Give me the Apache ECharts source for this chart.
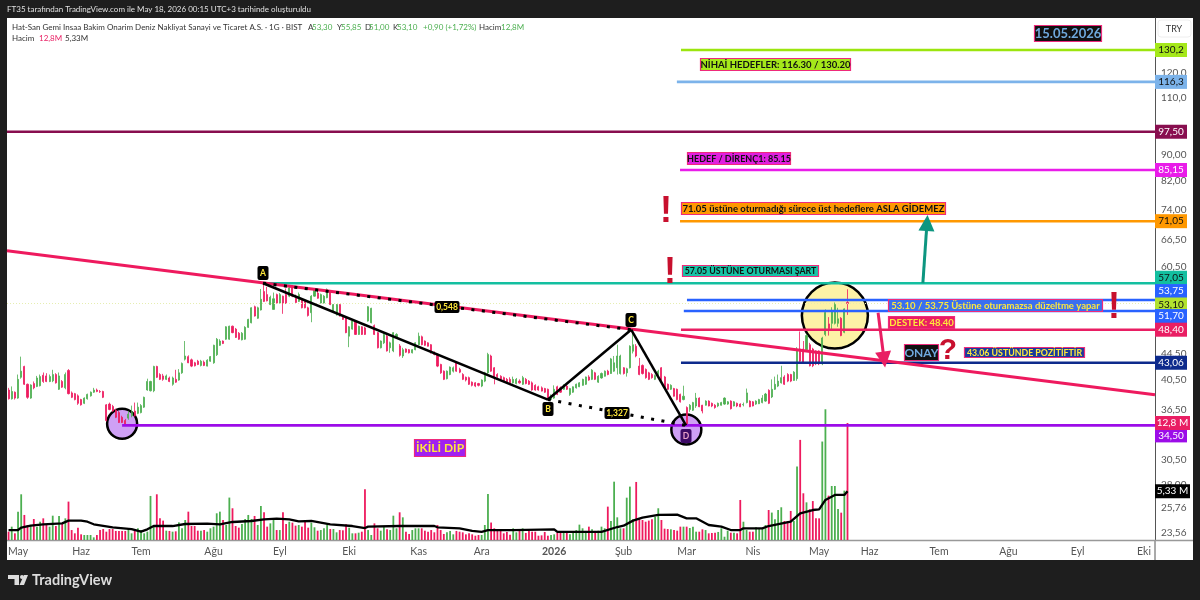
<!DOCTYPE html>
<html><head><meta charset="utf-8">
<script src="https://cdn.jsdelivr.net/npm/echarts@6/dist/echarts.min.js"></script>
<style>html,body{margin:0;padding:0;background:#1e1e1e}#c{width:1200px;height:600px}</style>
</head><body><div id="c"></div>
<script>
// ---------- data ----------
const monthLabels=['May','Haz','Tem','Ağu','Eyl','Eki','Kas','Ara','2026','Şub','Mar','Nis','May','Haz','Tem','Ağu','Eyl','Eki'];
const monthSlots=[3,23,42,65,86,108,130,150,173,195,215,236,257,273,295,317,339,360];
const priceTicks=[120,110,90,82,74,66.5,60.5,44.5,40.5,36.5,30.5,28,25.76,23.56];
const priceTickLabels=['120,0','110,0','90,00','82,00','74,00','66,50','60,50','44,50','40,50','36,50','30,50','28,00','25,76','23,56'];
// open, close, low, high per session
const candles=[
[39.1,37.9,37.8,39.4],[37.9,38.9,37.8,39.6],[38.8,38.0,37.8,38.9],[38.0,40.6,37.9,41.3],[40.9,41.8,40.7,44.0],[42.5,39.9,39.8,42.6],[39.9,38.1,37.9,40.0],[38.0,39.8,37.9,39.9],[40.0,39.4,39.2,40.3],[39.6,40.8,39.5,41.1],
[39.7,41.0,39.6,41.3],[41.2,40.3,40.1,41.6],[41.1,40.3,40.2,41.5],[40.3,41.0,40.2,41.3],[40.4,41.3,40.2,42.0],[41.3,40.1,40.0,41.5],[39.2,41.1,39.1,41.6],[40.3,39.5,39.4,40.5],[39.4,41.3,39.2,41.6],[41.9,38.6,38.5,42.1],
[38.7,38.1,38.0,38.9],[38.6,37.8,37.7,38.7],[38.3,37.3,37.1,38.5],[37.8,37.1,37.0,37.9],[37.3,38.0,37.2,38.1],[37.9,38.5,37.8,38.6],[38.3,38.8,38.2,38.9],[38.8,39.1,38.7,39.4],[39.1,38.9,38.8,39.3],[38.9,38.85,38.7,39.1],
[38.9,38.1,38.0,39.0],[37.1,35.1,35.0,37.2],[37.2,36.5,36.4,37.4],[36.9,36.3,36.2,37.1],[36.4,35.5,35.4,36.6],[36.1,34.85,34.8,36.3],[35.5,34.85,34.8,35.7],[35.1,34.5,34.5,35.3],[35.4,35.9,35.2,36.3],[35.7,36.1,35.5,37.0],
[36.3,35.7,35.6,37.4],[36.0,36.8,35.9,37.4],[36.1,37.0,36.0,37.2],[36.8,38.1,36.7,38.2],[39.1,40.3,39.0,40.7],[39.0,40.3,38.9,40.4],[39.0,42.5,38.8,42.6],[42.5,40.9,40.8,42.6],[41.3,40.6,40.5,41.5],[41.1,40.6,40.4,41.4],
[40.6,41.1,40.5,41.3],[40.8,40.3,40.2,41.0],[39.9,40.8,39.7,41.0],[40.6,40.2,40.1,42.0],[40.5,41.55,40.4,42.1],[41.55,42.95,41.4,43.1],[43.6,44.1,43.4,46.5],[44.0,43.05,43.0,44.2],[43.5,42.55,42.4,43.7],[43.05,42.6,42.5,43.2],
[43.3,42.8,42.7,43.5],[42.65,43.3,42.5,43.5],[43.15,42.65,42.55,43.4],[42.55,43.45,42.5,43.6],[43.3,44.0,43.2,44.1],[43.05,45.8,42.9,45.9],[44.3,46.8,44.1,47.0],[45.8,46.5,45.7,46.8],[46.5,46.1,46.0,46.6],[46.8,48.9,46.7,49.0],
[46.8,49.0,46.7,49.1],[49.0,47.9,47.8,49.1],[48.5,47.1,47.0,48.7],[47.8,46.8,46.7,48.0],[46.7,47.8,46.6,48.0],[46.8,48.8,46.7,49.0],[48.8,50.2,48.7,50.3],[49.6,52.3,49.5,52.4],[52.5,50.8,50.7,52.7],[50.4,52.3,50.3,52.5],
[51.9,53.9,51.8,55.9],[55.4,53.5,53.4,57.05],[54.8,53.6,53.5,56.3],[52.9,54.3,52.8,54.6],[52.0,54.0,52.0,55.2],[54.8,53.2,53.1,55.0],[53.2,54.8,53.1,55.1],[54.5,53.2,51.2,54.6],[54.8,53.1,53.0,56.0],[54.5,56.1,54.3,56.3],
[56.4,54.5,54.3,56.7],[54.5,53.3,53.2,54.8],[53.5,54.8,53.4,55.2],[53.9,52.3,52.2,54.1],[53.5,52.3,52.2,53.7],[52.3,50.9,50.7,52.5],[51.4,54.5,49.7,54.7],[54.5,55.8,54.4,56.0],[55.1,54.1,54.0,55.5],[53.2,54.8,53.1,55.0],
[53.2,54.5,53.1,54.7],[54.2,55.8,54.1,56.0],[55.5,52.9,52.8,55.6],[51.7,52.9,51.6,53.0],[51.0,52.9,50.9,53.0],[52.9,50.8,50.7,53.0],[50.8,50.2,50.1,51.0],[50.5,47.9,47.8,50.6],[47.3,48.9,45.5,49.0],[48.5,49.9,48.4,50.1],
[49.9,47.6,47.5,50.0],[47.6,49.0,47.5,49.1],[48.9,47.6,47.5,49.0],[48.7,47.6,47.5,48.9],[49.9,52.5,49.8,52.6],[49.6,52.2,49.5,52.3],[49.1,47.6,47.5,49.3],[47.9,45.4,45.3,48.0],[45.4,46.5,45.3,46.6],[46.2,47.6,46.0,47.8],
[47.3,44.9,44.8,47.5],[45.4,46.2,44.6,46.4],[44.9,47.9,44.7,48.0],[47.1,47.6,46.9,47.8],[45.7,44.2,44.0,46.0],
[44.1,45.1,43.8,45.4],[45.2,44.7,44.6,45.3],[45.1,44.6,44.5,45.2],[44.6,45.1,44.5,45.2],[45.1,46.2,45.0,46.3],
[45.9,47.3,45.8,47.9],[47.2,45.9,45.8,47.4],[46.5,45.8,45.7,46.6],[46.2,45.65,45.6,46.3],[45.9,44.6,44.5,46.0],[44.7,44.35,44.2,44.8],[44.35,42.55,42.4,44.5],[42.8,41.55,41.4,42.9],[41.8,40.6,40.5,41.9],[40.7,41.8,40.6,41.9],
[41.3,42.4,41.2,42.5],[41.8,42.3,41.6,42.5],[43.05,41.8,41.7,43.2],[42.05,41.65,41.5,42.3],[41.3,40.6,40.5,41.5],[40.9,40.5,40.3,41.0],[40.85,39.9,39.8,41.0],[40.2,39.75,39.6,40.3],[40.1,39.65,39.5,40.2],[40.0,39.75,39.6,40.1],
[39.65,40.5,39.5,40.6],[40.35,41.55,40.2,41.7],[41.55,44.35,41.4,44.6],[44.1,41.8,41.7,44.3],[42.3,40.8,39.9,42.4],[41.3,41.0,40.8,41.5],[41.05,40.6,40.5,41.2],[40.85,40.35,40.2,41.0],[40.6,40.2,40.1,40.8],[40.6,40.1,40.0,40.9],
[40.1,40.6,40.0,41.0],[40.0,40.6,39.9,40.8],[40.35,40.1,40.0,40.6],[39.9,40.85,39.8,41.1],[40.6,40.0,39.9,40.8],[40.35,39.9,39.8,40.5],[40.1,39.1,39.0,40.3],[39.75,39.1,39.0,39.9],[39.55,39.1,39.0,39.7],[39.4,38.95,38.9,39.6],
[39.3,38.8,38.7,39.4],[39.2,37.8,37.75,39.3],[37.8,38.35,37.75,38.5],[38.0,39.2,37.9,39.75],[39.55,38.5,38.4,39.7],[39.4,38.8,38.7,39.6],[39.2,39.75,39.1,39.9],[39.65,39.2,39.1,39.8],[38.5,39.3,38.3,39.4],[38.8,39.55,38.7,39.6],
[39.4,39.9,39.3,40.0],[39.55,40.1,39.5,40.2],[39.75,40.6,39.7,40.7],[39.9,40.95,39.8,41.0],[40.95,40.5,40.4,41.2],[40.6,41.95,40.5,42.1],[41.55,40.6,40.5,41.7],[40.2,41.05,40.1,41.2],[40.8,41.45,40.7,41.6],[41.05,41.8,41.0,41.9],
[41.8,41.3,41.2,42.0],[41.45,43.65,41.4,43.8],[41.8,43.05,41.7,44.1],[42.3,44.1,41.3,45.9],[41.45,44.1,41.3,44.3],[42.3,41.45,41.3,42.4],[41.55,42.15,41.0,42.3],[42.3,45.65,42.2,45.8],[44.85,45.9,44.5,48.4],[45.65,44.1,43.9,46.0],
[42.55,41.3,41.2,43.8],[42.65,41.45,41.3,42.8],[42.05,40.85,40.7,42.2],[41.55,40.6,40.5,41.7],[41.3,40.85,40.7,41.5],[40.6,41.15,40.5,41.3],[40.95,41.8,40.9,42.0],[42.3,40.35,40.2,42.4],[40.95,39.4,39.3,41.1],[39.9,39.2,39.1,40.0],
[39.2,39.75,39.1,39.9],[39.3,38.25,38.2,39.4],[39.2,37.8,37.7,39.3],[38.5,37.5,37.4,38.6],[37.8,38.25,37.7,39.7],
[36.75,34.5,34.5,36.9],[36.5,37.05,36.2,37.2],[36.4,37.4,36.3,37.5],[36.95,38.0,36.7,38.7],[38.0,36.85,36.8,38.1],[37.05,36.3,36.0,37.1],[37.05,37.6,37.0,37.7],[37.6,36.95,36.9,37.7],[37.3,36.95,36.8,37.4],[37.05,36.75,36.6,37.2],
[36.95,37.3,36.8,37.4],[37.05,37.4,37.0,37.5],[37.2,38.0,37.1,38.1],[37.2,37.5,37.1,37.6],[37.6,36.6,36.5,37.7],[36.95,37.5,36.9,37.6],[37.3,36.95,36.8,37.4],[37.2,36.85,36.8,37.3],[37.1,37.15,36.9,37.4],[37.4,38.7,37.3,39.3],
[37.6,36.85,36.8,37.7],[37.5,36.95,36.9,37.6],[37.2,37.6,37.1,37.7],[37.25,37.8,37.2,37.9],[37.4,38.0,37.3,38.4],[37.6,38.55,37.5,38.7],[39.05,37.3,37.2,39.2],[38.15,39.2,38.0,40.6],[39.2,39.9,39.1,41.0],[39.65,40.35,39.5,41.3],
[40.1,40.85,40.0,42.6],[40.95,39.9,39.8,41.2],[41.3,40.35,40.2,41.5],[41.3,40.35,40.2,41.4],[40.45,41.65,40.4,41.8],
[40.7,45.2,40.4,45.5],[45.2,43.3,43.0,48.1],[45.2,43.0,42.95,46.5],[45.1,47.4,45.0,47.7],[45.9,42.6,42.5,46.2],[45.2,42.6,42.4,45.4],[44.9,42.9,42.7,45.0],[44.9,42.9,42.7,45.0],[42.9,47.0,42.7,47.2],[47.6,51.45,47.3,52.0],
[49.4,48.6,47.4,50.6],[49.5,51.7,48.2,52.4],[49.5,52.9,49.3,53.3],[49.5,50.3,48.9,52.3],[50.4,47.4,47.3,50.6],[47.95,52.1,47.8,52.2],[53.3,53.1,51.0,55.85]];
// volume in millions per session
const volumes=[
.91,1.46,.73,3.1,5.0,2.74,1.64,1.57,2.3,1.46, 2.0,2.37,1.64,1.46,2.66,1.53,2.63,1.82,2.37,4.2,
1.09,.73,1.35,.62,.55,.55,.55,.29,.55,1.09, 1.2,.91,1.2,1.2,.99,.99,.99,.99,1.2,.73,
1.02,1.28,1.09,.73,.91,4.82,1.53,5.0,2.37,2.12, 1.02,.99,.91,.95,1.93,1.28,2.19,3.1,1.53,1.53,
1.02,1.02,1.09,.91,1.28,1.46,2.92,3.1,2.19,1.64, 4.64,3.47,1.53,1.35,1.75,2.3,2.74,2.3,2.63,1.64,
3.72,3.03,1.46,1.82,2.37,1.09,1.09,3.03,1.75,2.0, 1.9,1.57,1.64,1.46,2.0,1.35,1.9,1.39,1.02,1.09,
1.28,1.72,1.2,1.2,.84,1.09,1.06,1.72,1.35,.73, .73,.8,.91,5.55,1.09,.55,1.82,1.28,1.02,1.46,
1.17,1.09,2.66,1.28,3.03,
2.48,.91,.66,1.09,1.28, 1.28,1.28,1.02,.91,1.09, .84,1.64,1.09,.66,.84, .99,.62,.99,.91,.84,
.62,.73,.62,.47,.55, .55,1.64,5.04,1.91,1.28, 1.02,1.02,.73,.88,.58, 1.28,.84,1.09,1.28,.77,
.99,.91,.91,.47,.51, .88,.47,.55,.62,.8, .8,.8,.8,.62,.8, 1.09,1.68,1.28,.99,1.46,
1.17,.99,1.02,1.46,1.28, 3.65,2.08,6.38,2.48,1.28, 1.28,4.63,5.84,2.26,6.35, 2.3,2.19,2.0,2.12,2.26,
2.55,3.47,2.19,1.24,1.2, 1.17,1.09,1.02,1.46,1.46, 1.46,1.31,1.46,.91,.91, 1.17,1.09,.73,.77,.8,.88,
1.28,.36,1.02,.8,.8, .73,4.38,2.0,1.09,.91, .91,1.39,1.2,1.31,1.64,3.28, 3.0,2.26,3.28,3.58,2.08,
2.08,3.18,2.08,8.03,10.95,5.11,4.12,3.36,4.26,2.37, 2.37,10.77,14.3,4.85,5.91,5.91,3.39,2.99,5.4,12.8];
// volume moving average: [session, value in millions]
const volumeAverage=[[0,1.09],[3,1.09],[4,1.35],[7,1.57],[11,1.72],[17,1.82],[19,2.12],[23,2.12],[25,2.0],[27,1.72],[33,1.39],[39,1.2],[42,.91],[44,1.17],[46,1.53],[52,1.53],[56,1.75],[63,1.79],[67,1.72],[71,1.97],[77,2.08],[81,2.26],[85,2.34],[89,2.26],[92,2.04],[96,2.08],[102,1.72],[109,1.53],[113,1.31],[114,1.46],[124,1.53],[135,1.53],[136,1.39],[143,1.28],[147,.99],[150,.88],[152,1.09],[160,1.09],[173,1.17],[174,.88],[188,.88],[193,1.42],[195,1.57],[198,2.12],[201,2.45],[206,2.74],[212,2.77],[215,2.37],[218,2.37],[222,1.64],[226,1.46],[229,1.09],[232,1.09],[233,1.28],[239,1.28],[241,1.53],[248,2.0],[251,2.92],[255,3.28],[257,3.36],[259,4.38],[262,4.93],[265,4.93],[266,5.33]];
const levelValues=[130.2,116.3,97.5,85.15,71.05,57.05,53.75,51.7,48.4,43.06,34.5];
const levelStartSession=[213.2,211.9,-0.5,212.9,212.9,80.7,215.1,214.1,213.2,213.2,36];
const levelColors=['#9be50e','#7cb3ea','#880e4f','#e91ce9','#ff9800','#13bfa0','#2962ff','#2962ff','#e91e63','#0d2a8c','#9c0ce8'];
const trendLine=[[-0.5,64.0],[363.5,38.45]];
const patternA=[80.7,57.05],patternB=[171,37.8],patternC=[197.4,48.4],patternD=[214.8,34.5];
const tagValues=[130.2,116.3,97.5,85.15,71.05,57.05,53.75,53.1,51.7,48.4,43.06,34.5];
const tagLabels=['130,2','116,3','97,50','85,15','71,05','57,05','53,75','53,10','51,70','48,40','43,06','34,50'];
const tagFill=['#a5e81a','#7cb3ea','#880e4f','#e91ce9','#ff9800','#13bfa0','#2962ff','#b2e22e','#2962ff','#e91e63','#0d2a8c','#9c0ce8'];
const tagInk=['#111','#111','#fff','#fff','#111','#111','#fff','#111','#fff','#fff','#fff','#fff'];
const tagNudge=[0,0,0,0,0,-5.5,-9,1,5,0,0,10];
const volumeTags=[12.8,5.33];
const volumeTagLabels=['12,8 M','5,33 M'];
const volumeTagFill=['#e91e63','#000'];

// ---------- annotations in page pixels ----------
const notes=[
[1034,25,1102,42,'15.05.2026','#111','#6fa8dc','bold 13px Lato'],
[700,58,851,71,'NİHAİ HEDEFLER: 116.30 / 130.20','#a5e81a','#111','bold 9.5px Lato'],
[687,152,791,165,'HEDEF / DİRENÇ1: 85.15','#e01fe0','#111','bold 9px Lato'],
[681,202,946,215,'71.05 üstüne oturmadığı sürece üst hedeflere ASLA GİDEMEZ','#ff9800','#111','bold 9.5px Lato'],
[682,265,819,277,'57.05 ÜSTÜNE OTURMASI ŞART','#16c4a6','#111','bold 8.8px Lato'],
[888,299,1103,312,'53.10 / 53.75 Üstüne oturamazsa düzeltme yapar','#3a6ff0','#ffe83b','bold 9.5px Lato'],
[888,316,955,329,'DESTEK: 48.40','#e91e63','#ffe83b','bold 9.5px Lato'],
[904,344,939,361,'ONAY','#111','#6fa8dc','bold 12px Lato'],
[964,347,1085,358,'43.06 ÜSTÜNDE POZİTİFTİR','#1a3a9c','#ffe83b','bold 8.8px Lato'],
[414,439,466,457,'İKİLİ DİP','#a020f0','#ffe83b','bold 12px Lato']];
const badges=[
[257.5,266,11,14,'A','#000','#ffe83b'],[542.5,402,11,14,'B','#000','#ffe83b'],[625.5,313,11,14,'C','#000','#ffe83b'],[680.5,429,11,14,'D','#3d0a66','#e8a0c8'],
[434.5,301,25,12,'0,548','#000','#ffe83b'],[604.5,407,25,12,'1,327','#000','#ffe83b']];
const marks=[[666,212,'!',36],[670,273,'!',36],[1114,308,'!',36],[948,351,'?',30]];
const header=[
[7,9,'FT35 tarafından TradingView.com ile May 18, 2026 00:15 UTC+3 tarihinde oluşturuldu','#e0e0e0'],
[12,27,'Hat-San Gemi Insaa Bakim Onarim Deniz Nakliyat Sanayi ve Ticaret A.S. · 1G · BIST','#333'],
[308,27,'A','#333'],[312,27,'53,30','#4caf50'],[337,27,'Y','#333'],[341,27,'55,85','#4caf50'],[365,27,'D','#333'],[369,27,'51,00','#4caf50'],[393,27,'K','#333'],[397,27,'53,10','#4caf50'],[423,27,'+0,90 (+1,72%)','#4caf50'],[479,27,'Hacim','#333'],[501,27,'12,8M','#4caf50'],
[12,38,'Hacim','#333'],[39,38,'12,8M','#e91e63'],[65,38,'5,33M','#333']];

const UP='#4caf50',DOWN='#ee1a5e';
const SLOTS=364;
const AXISFONT='Lato';
const slotNames=Array.from({length:SLOTS},(_,i)=>{const k=monthSlots.indexOf(i);return k<0?'':monthLabels[k];});

function lineSeries(name,data,color,width,type,z){
  return {name,type:'line',xAxisIndex:1,yAxisIndex:0,data,showSymbol:false,symbol:'none',silent:true,z:z||4,
    lineStyle:{color,width,type:type||'solid'}};
}
function tagItem(params,api,labels,fills,inks,nudges,w){
  const i=params.dataIndex,c=api.coord([api.value(0),api.value(1)]),h=14,y=c[1]+(nudges?nudges[i]:0);
  return {type:'group',children:[
    {type:'rect',shape:{x:c[0],y:y-h/2,width:w,height:h},style:{fill:fills[i]}},
    {type:'text',style:{x:c[0]+w/2,y:y,text:labels[i],align:'center',verticalAlign:'middle',fill:inks?inks[i]:'#fff',font:'10px '+AXISFONT}}
  ]};
}

const series=[
 {type:'scatter',xAxisIndex:1,yAxisIndex:0,z:1,silent:true,data:[[36,34.7],[214.9,34.0]],symbolSize:30,
  itemStyle:{color:'#cfa0f5',borderColor:'#000',borderWidth:2.5,opacity:1}},
 {type:'scatter',xAxisIndex:1,yAxisIndex:0,z:1,silent:true,data:[[262,50.9]],symbolSize:66,
  itemStyle:{color:'#fdf2a6',borderColor:'#000',borderWidth:2.5,opacity:1}},
 {type:'candlestick',xAxisIndex:0,yAxisIndex:0,z:2,barWidth:1.6,data:candles,silent:true,
  itemStyle:{color:UP,color0:DOWN,borderColor:UP,borderColor0:DOWN,borderWidth:0.8}},
 {type:'bar',xAxisIndex:0,yAxisIndex:1,z:2,barWidth:1.8,silent:true,
  data:volumes.map((v,i)=>({value:v,itemStyle:{color:candles[i]&&candles[i][1]>=candles[i][0]?UP:DOWN}}))},
 lineSeries('hacim-ort',volumeAverage,'#000',2.3,'solid',4),
];
series[series.length-1].yAxisIndex=1;
levelValues.forEach((v,i)=>series.push(lineSeries('seviye'+i,[[levelStartSession[i],v],[SLOTS-0.5,v]],levelColors[i],2.6)));
series.push(lineSeries('son-fiyat',[[-0.5,53.1],[SLOTS-0.5,53.1]],'#e6eeb0',1,[1,2],3));
series.push(lineSeries('trend',trendLine,'#ee1a5e',3));
series.push(lineSeries('AB',[patternA,patternB],'#000',2.5,'solid',5));
series.push(lineSeries('BC',[patternB,patternC],'#000',2.5,'solid',5));
series.push(lineSeries('CD',[patternC,patternD],'#000',2.5,'solid',5));
series.push(lineSeries('AC',[patternA,patternC],'#000',3,[3,7.5],5));
series.push(lineSeries('BD',[patternB,patternD],'#000',3,[3,7.5],5));
series.push({type:'line',xAxisIndex:1,yAxisIndex:0,data:[],z:6,silent:true,
  markLine:{silent:true,animation:false,symbol:['none','triangle'],symbolSize:[16,16],label:{show:false},
    data:[
      [{coord:[289.9,57.05],lineStyle:{color:'#0d9680',width:3,type:'solid'},itemStyle:{color:'#0d9680'}},{coord:[291.2,70.6]}],
      [{coord:[275.7,51.4],lineStyle:{color:'#e91e63',width:3,type:'solid'},itemStyle:{color:'#e91e63'}},{coord:[277.6,43.55]}]
    ]}});
series.push({type:'custom',xAxisIndex:1,yAxisIndex:0,z:20,silent:true,clip:false,
  data:tagValues.map(v=>[SLOTS-0.5,v]),
  renderItem:(p,api)=>tagItem(p,api,tagLabels,tagFill,tagInk,tagNudge,32)});
series.push({type:'custom',xAxisIndex:1,yAxisIndex:1,z:21,silent:true,clip:false,
  data:volumeTags.map(v=>[SLOTS-0.5,v]),
  renderItem:(p,api)=>tagItem(p,api,volumeTagLabels,volumeTagFill,null,null,35)});

const g=[];
g.push({type:'rect',z:-10,shape:{x:7,y:18,width:1186,height:542},style:{fill:'#fff'}});
g.push({type:'line',z:1,shape:{x1:1155,y1:541,x2:1155,y2:560},style:{stroke:'#555',lineWidth:1}});
g.push({type:'line',z:1,shape:{x1:7,y1:540.5,x2:1193,y2:540.5},style:{stroke:'#999',lineWidth:1.5}});
g.push({type:'rect',z:30,shape:{x:1158,y:20,width:33,height:17,r:3},style:{fill:'#fff',stroke:'#eee'}});
g.push({type:'text',z:31,style:{x:1174,y:29,text:'TRY',align:'center',verticalAlign:'middle',fill:'#333',font:'9px Lato'}});
notes.forEach(n=>{
  g.push({type:'rect',z:40,shape:{x:n[0]+.5,y:n[1]+.5,width:n[2]-n[0]-1,height:n[3]-n[1]-1},style:{fill:n[5],stroke:'#ee2a7b',lineWidth:1.2}});
  g.push({type:'text',z:41,style:{x:(n[0]+n[2])/2,y:(n[1]+n[3])/2+.5,text:n[4],align:'center',verticalAlign:'middle',fill:n[6],font:n[7]}});
});
badges.forEach(b=>{
  g.push({type:'rect',z:40,shape:{x:b[0],y:b[1],width:b[2],height:b[3],r:2},style:{fill:b[5]}});
  g.push({type:'text',z:41,style:{x:b[0]+b[2]/2,y:b[1]+b[3]/2+.5,text:b[4],align:'center',verticalAlign:'middle',fill:b[6],font:'bold 8.5px Lato'}});
});
marks.forEach(m=>g.push({type:'text',z:42,style:{x:m[0],y:m[1],text:m[2],align:'center',verticalAlign:'middle',fill:'#c8102e',font:'bold '+m[3]+'px "Liberation Sans"'}}));
header.forEach(h=>g.push({type:'text',z:30,style:{x:h[0],y:h[1],text:h[2],align:'left',verticalAlign:'middle',fill:h[3],font:'8px Lato'}}));
// footer mark
g.push({type:'polygon',z:30,shape:{points:[[8,575],[19,575],[19,585],[14.5,585],[14.5,579],[8,579]]},style:{fill:'#ddd'}});
g.push({type:'circle',z:30,shape:{cx:22,cy:577,r:2},style:{fill:'#ddd'}});
g.push({type:'polygon',z:30,shape:{points:[[24,575],[28,575],[24,585],[19.5,585]]},style:{fill:'#ddd'}});
g.push({type:'text',z:30,style:{x:32,y:580,text:'TradingView',align:'left',verticalAlign:'middle',fill:'#ddd',font:'bold 14.5px Lato'}});

const chart=echarts.init(document.getElementById('c'),null,{renderer:'canvas'});
chart.setOption({
 animation:false,backgroundColor:'#1e1e1e',
 grid:{left:7,right:45,top:18,bottom:60,containLabel:false},
 xAxis:[
  {type:'category',data:slotNames,boundaryGap:true,axisLine:{show:false},axisTick:{show:false},splitLine:{show:false},
   axisLabel:{interval:0,margin:6,fontFamily:AXISFONT,fontSize:10.5,color:'#555',
     formatter:v=>v==='2026'?'{b|2026}':v,rich:{b:{fontWeight:'bold',fontFamily:AXISFONT,fontSize:10.5,color:'#555'}}}},
  {type:'value',min:-0.5,max:SLOTS-0.5,show:false}
 ],
 yAxis:[
  {type:'log',logBase:Math.E,min:23.0,max:145.8,position:'right',
   axisLine:{show:true,onZero:false,lineStyle:{color:'#555'}},axisTick:{show:false},splitLine:{show:false},minorTick:{show:false},
   axisLabel:{customValues:priceTicks,margin:6,fontFamily:AXISFONT,fontSize:10,color:'#555',
     formatter:v=>{let b=0;priceTicks.forEach((t,i)=>{if(Math.abs(Math.log(t/v))<Math.abs(Math.log(priceTicks[b]/v)))b=i;});return priceTickLabels[b];}}},
  {type:'value',min:0,max:57.1,show:false}
 ],
 graphic:{elements:g},
 series
});
</script></body></html>
